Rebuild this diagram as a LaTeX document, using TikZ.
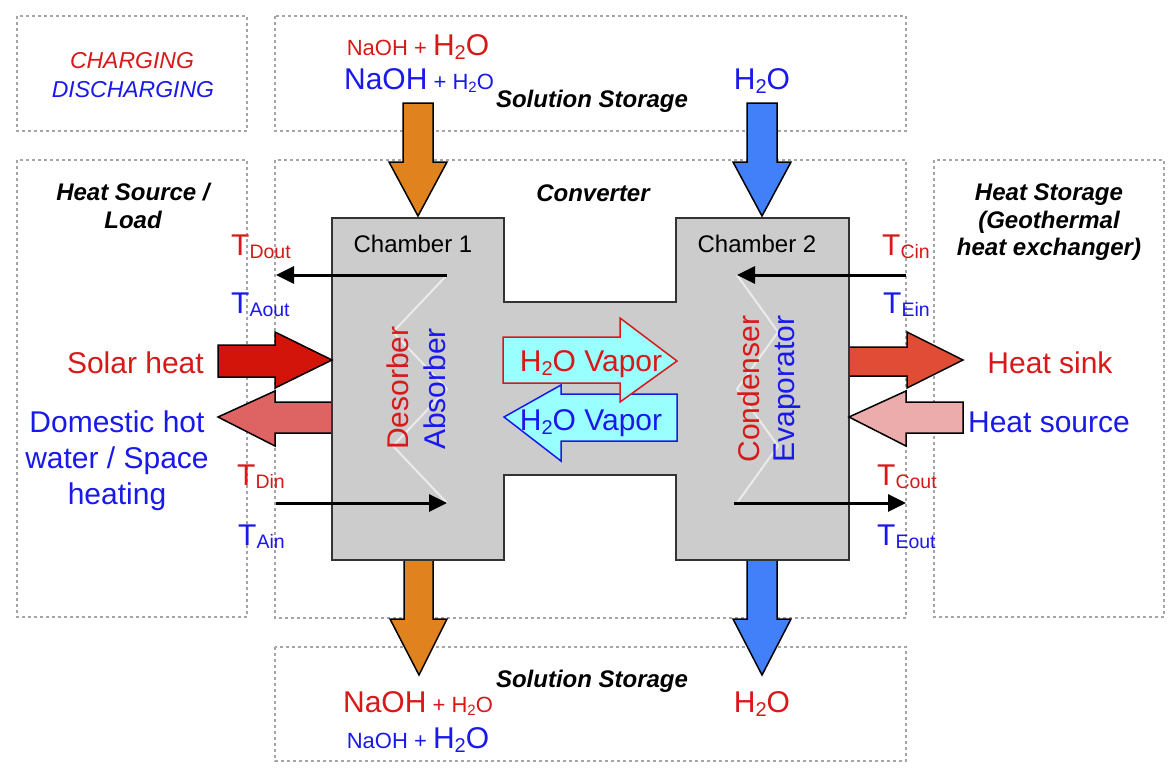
\documentclass[tikz,border=0pt]{standalone}
\usepackage{fontspec}
\setmainfont{Liberation Sans}
\usetikzlibrary{arrows.meta}
\definecolor{tred}{RGB}{215,25,25}
\definecolor{tblue}{RGB}{25,25,235}
\definecolor{orangeA}{RGB}{224,130,30}
\definecolor{blueA}{RGB}{66,128,250}
\definecolor{solarA}{RGB}{210,20,10}
\definecolor{domA}{RGB}{222,100,100}
\definecolor{sinkA}{RGB}{224,76,54}
\definecolor{srcA}{RGB}{236,172,172}
\definecolor{vapA}{RGB}{153,255,255}
\definecolor{chamA}{RGB}{204,204,204}
\definecolor{zoneA}{RGB}{165,165,165}
\definecolor{coilA}{RGB}{235,235,235}
\newcommand{\myfs}[1]{\fontsize{#1}{#1}\selectfont}
\newcommand{\lowsub}[1]{\raisebox{-3pt}{\myfs{19.5}#1}}
\newcommand{\Hbig}{H\raisebox{-4pt}{\myfs{20}2}O}
\newcommand{\Hsmall}{H\raisebox{-3pt}{\myfs{15}2}O}
\tikzset{
  zone/.style={draw=zoneA, line width=1.5pt, dash pattern=on 3pt off 3pt},
  blockarrow/.style={draw=black, line width=1.5pt, line join=miter},
  thinarrow/.style={line width=3pt, -{Triangle[length=18pt,width=17pt]}},
  coil/.style={draw=coilA, line width=2pt},
  txt/.style={inner sep=0pt, anchor=base},
  big/.style={txt, font=\myfs{30}},
  mid/.style={txt, font=\myfs{24}},
  lbl/.style={txt, font=\myfs{24}\bfseries\itshape},
}
\begin{document}
\begin{tikzpicture}[x=1pt,y=-1pt]
\useasboundingbox (0,0) rectangle (1176,769);
\fill[white] (0,0) rectangle (1176,769);

% zones
\draw[zone] (17,16) rectangle (247,131);
\draw[zone] (275,16) rectangle (906,131);
\draw[zone] (17,160) rectangle (247,617);
\draw[zone] (275,160) rectangle (906,618);
\draw[zone] (934,160) rectangle (1164,617);
\draw[zone] (275,647) rectangle (906,761);

% arrows tucked under the chamber
\draw[blockarrow, fill=orangeA] (404,555) -- (404,619) -- (390,619) -- (419,675) -- (447,619) -- (433,619) -- (433,555) -- cycle;
\draw[blockarrow, fill=blueA] (747,555) -- (747,619) -- (733,619) -- (762,675) -- (791,619) -- (777,619) -- (777,555) -- cycle;
\draw[blockarrow, fill=domA] (338,402) -- (275,402) -- (275,391) -- (218,417) -- (275,446) -- (275,433) -- (338,433) -- cycle;
\draw[blockarrow, fill=sinkA] (843,347) -- (907,347) -- (907,332) -- (963,360) -- (907,388) -- (907,376) -- (843,376) -- cycle;

% chambers
\draw[draw=black!80, line width=2.5pt, fill=chamA]
  (332,218) -- (504,218) -- (504,302) -- (676,302) -- (676,218) -- (849,218)
  -- (849,560) -- (676,560) -- (676,475) -- (504,475) -- (504,560) -- (332,560) -- cycle;

% coils
\draw[coil] (447,275) -- (393,332) -- (447,389) -- (393,446) -- (447,503);
\draw[coil] (737,275) -- (778,332) -- (737,389) -- (778,446) -- (737,503);

% arrows on top of the chamber
\draw[blockarrow, fill=orangeA] (403,103) -- (433,103) -- (433,162) -- (447,162) -- (418,216) -- (389,162) -- (403,162) -- cycle;
\draw[blockarrow, fill=blueA] (747,103) -- (777,103) -- (777,162) -- (791,162) -- (762,216) -- (733,162) -- (747,162) -- cycle;
\draw[blockarrow, fill=solarA] (218,345) -- (275,345) -- (275,332) -- (332,360) -- (275,388) -- (275,377) -- (218,377) -- cycle;
\draw[blockarrow, fill=srcA] (963,402) -- (906,402) -- (906,391) -- (849,417) -- (906,446) -- (906,433) -- (963,433) -- cycle;

% vapor arrows
\draw[draw=tblue, line width=1.5pt, fill=vapA] (504,417) -- (561,385) -- (561,394) -- (677,394) -- (677,441) -- (561,441) -- (561,461) -- cycle;
\draw[draw=tred, line width=1.5pt, fill=vapA] (503,337) -- (620,337) -- (620,318) -- (677,361) -- (620,402) -- (620,383) -- (503,383) -- cycle;

% thin arrows
\coordinate (c1a) at (447,275); \coordinate (c1b) at (276,275);
\coordinate (c1c) at (276,503); \coordinate (c1d) at (447,503);
\coordinate (c2a) at (906,275); \coordinate (c2b) at (737,275);
\coordinate (c2c) at (734,503); \coordinate (c2d) at (906,503);
\draw[thinarrow] (c1a) -- (c1b);
\draw[thinarrow] (c1c) -- (c1d);
\draw[thinarrow] (c2a) -- (c2b);
\draw[thinarrow] (c2c) -- (c2d);

% legend
\node[txt, font=\myfs{23}\itshape, text=tred] (charging) at (132,68) {CHARGING};
\node[txt, font=\myfs{23}\itshape, text=tblue] (discharging) at (133,97) {DISCHARGING};

% top storage
\node[txt, text=tred] (topred) at (418,55) {{\myfs{22}NaOH + }{\myfs{30}\Hbig}};
\node[txt, text=tblue] (topblue) at (419,89) {{\myfs{30}NaOH}{\myfs{22} + \Hsmall}};
\node[lbl] (ssTop) at (592,107) {Solution Storage};
\node[big, text=tblue] (h2otop) at (762,89) {\Hbig};

% left zone
\node[lbl] (hsl1) at (133,200) {Heat Source /};
\node[lbl] (hsl2) at (133,228) {Load};
\node[big, text=tred, anchor=base east] (solar) at (204,373) {Solar heat};
\node[big, text=tblue] (dom1) at (117,432) {Domestic hot};
\node[big, text=tblue] (dom2) at (117,468) {water / Space};
\node[big, text=tblue] (dom3) at (117,504) {heating};
\node[big, text=tred, anchor=base west] (tdout) at (231,255) {T\lowsub{Dout}};
\node[big, text=tblue, anchor=base west] (taout) at (231,313) {T\lowsub{Aout}};
\node[big, text=tred, anchor=base west] (tdin) at (237,485) {T\lowsub{Din}};
\node[big, text=tblue, anchor=base west] (tain) at (238,545) {T\lowsub{Ain}};

% converter
\node[lbl] (conv) at (593,201) {Converter};
\node[mid] (ch1) at (413,252) {Chamber 1};
\node[mid] (ch2) at (757,252) {Chamber 2};
\node[big, text=tred, rotate=90] (desorber) at (408,388) {Desorber};
\node[big, text=tblue, rotate=90] (absorber) at (445,389) {Absorber};
\node[big, text=tred, rotate=90] (condenser) at (759,389) {Condenser};
\node[big, text=tblue, rotate=90] (evaporator) at (794,389) {Evaporator};
\node[big, text=tred] (vap1) at (591,371) {\Hbig{} Vapor};
\node[big, text=tblue] (vap2) at (591,430) {\Hbig{} Vapor};

% right zone
\node[lbl] (hst1) at (1049,200) {Heat Storage};
\node[lbl] (hst2) at (1049,228) {(Geothermal};
\node[lbl] (hst3) at (1049,255) {heat exchanger)};
\node[big, text=tred] (sink) at (1050,373) {Heat sink};
\node[big, text=tblue] (source) at (1049,432) {Heat source};
\node[big, text=tred, anchor=base west] (tcin) at (882,255) {T\lowsub{Cin}};
\node[big, text=tblue, anchor=base west] (tein) at (883,313) {T\lowsub{Ein}};
\node[big, text=tred, anchor=base west] (tcout) at (877,485) {T\lowsub{Cout}};
\node[big, text=tblue, anchor=base west] (teout) at (877,545) {T\lowsub{Eout}};

% bottom storage
\node[lbl] (ssBot) at (592,687) {Solution Storage};
\node[txt, text=tred] (botred) at (418,712) {{\myfs{30}NaOH}{\myfs{22} + \Hsmall}};
\node[txt, text=tblue] (botblue) at (418,748) {{\myfs{22}NaOH + }{\myfs{30}\Hbig}};
\node[big, text=tred] (h2obot) at (762,712) {\Hbig};
\end{tikzpicture}
\end{document}
